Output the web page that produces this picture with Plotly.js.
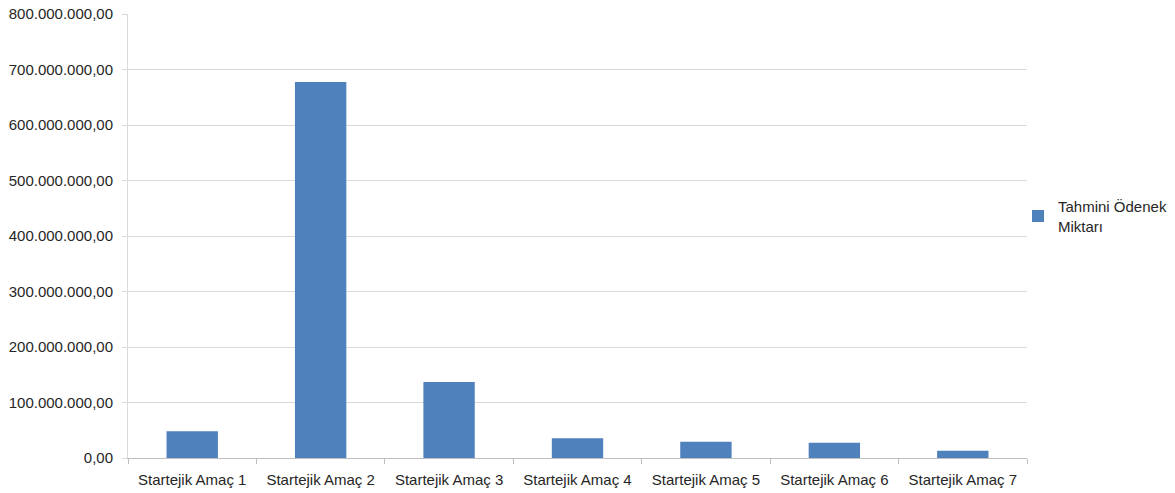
<!DOCTYPE html>
<html>
<head>
<meta charset="utf-8">
<script src="https://cdn.plot.ly/plotly-3.0.1.min.js"></script>
<style>html,body{margin:0;padding:0;background:#fff;}#chart{width:1175px;height:493px;}</style>
</head>
<body>
<div id="chart"></div>
<script>
var categories = ["Startejik Amaç 1","Startejik Amaç 2","Startejik Amaç 3","Startejik Amaç 4","Startejik Amaç 5","Startejik Amaç 6","Startejik Amaç 7"];
var values = [48200000, 677700000, 137000000, 35600000, 29100000, 27300000, 13000000];
var seriesName = "Tahmini Ödenek<br>Miktarı";
var yTicks = [0,100000000,200000000,300000000,400000000,500000000,600000000,700000000,800000000];

var trace = {
  type: 'bar',
  x: categories,
  y: values,
  name: seriesName,
  marker: {color: '#4f81bd'},
  showlegend: true,
  hoverinfo: 'x+y'
};

var layout = {
  width: 1175, height: 493,
  margin: {l: 128, r: 148, t: 14, b: 35, pad: 0, autoexpand: false},
  paper_bgcolor: '#ffffff',
  plot_bgcolor: '#ffffff',
  separators: ',.',
  font: {family: 'Liberation Sans, Arial, sans-serif', size: 15, color: '#262626'},
  bargap: 0.6,
  showlegend: true,
  legend: {x: 0.99, xanchor: 'left', y: 0.545, yanchor: 'middle', font: {size: 15, color: '#262626'}, itemwidth: 30, bgcolor: 'rgba(0,0,0,0)'},
  xaxis: {
    type: 'category',
    tickson: 'boundaries',
    ticks: 'outside', ticklen: 5, tickcolor: '#bfbfbf',
    ticklabelstandoff: 8,
    showline: true, linecolor: '#bfbfbf', linewidth: 1,
    showgrid: false,
    tickfont: {size: 15, color: '#262626'}
  },
  yaxis: {
    range: [0, 800000000],
    tickvals: yTicks,
    tickformat: ',.2f',
    ticks: 'outside', ticklen: 5, tickcolor: '#d9d9d9',
    ticklabelstandoff: 6,
    showline: true, linecolor: '#d9d9d9', linewidth: 1,
    showgrid: true, gridcolor: '#d9d9d9', gridwidth: 1,
    zeroline: false,
    tickfont: {size: 15, color: '#262626'}
  }
};

Plotly.newPlot('chart', [trace], layout, {displayModeBar: false, staticPlot: true});
</script>
</body>
</html>
